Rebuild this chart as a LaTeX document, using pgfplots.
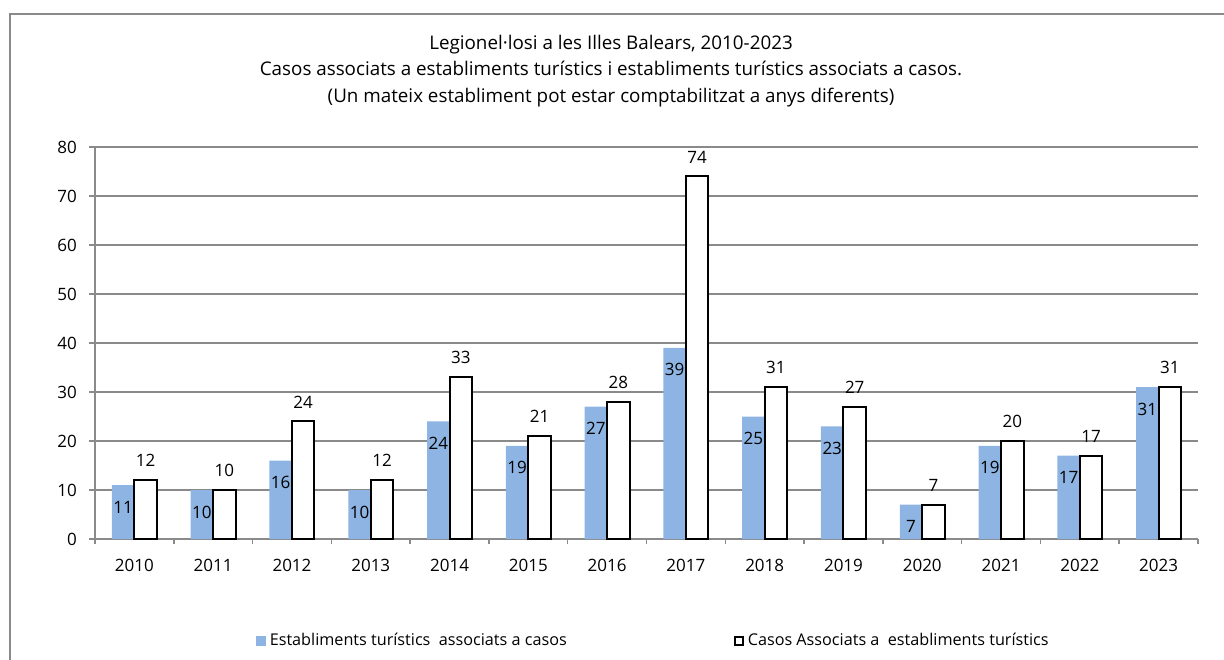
\documentclass[border=0pt]{standalone}
\usepackage{fontspec}
\setmainfont{Open Sans}
\usepackage{pgfplots}
\pgfplotsset{compat=1.18}
\definecolor{barblue}{HTML}{8DB4E2}
\definecolor{gridgray}{HTML}{8A8A8A}
\begin{document}
\fontsize{8.5pt}{10pt}\selectfont
\begin{tikzpicture}
\useasboundingbox (0,0) rectangle (612pt,329.5pt);
\draw[gridgray, line width=0.75pt] (5pt,-5pt) -- (5pt,322.5pt) -- (620pt,322.5pt);
\node[align=center, font=\fontsize{9.4pt}{13.2pt}\selectfont] at (305.5pt,294pt)
 {Legionel·losi a les Illes Balears, 2010-2023\\
  Casos associats a establiments turístics i establiments turístics associats a casos.\\
  (Un mateix establiment pot estar comptabilitzat a anys diferents)};
\begin{axis}[
  at={(47.5pt,60pt)}, anchor=south west,
  scale only axis, width=551.5pt, height=196pt,
  ybar=0pt, bar width=11.25pt,
  xmin=-0.5, xmax=13.5, ymin=0, ymax=80,
  ytick={0,10,...,80},
  xtick={0,...,13},
  xticklabels={2010,2011,2012,2013,2014,2015,2016,2017,2018,2019,2020,2021,2022,2023},
  minor xtick={-0.5,0.5,...,13.5},
  axis lines=left, axis line style={-, gridgray, line width=0.75pt},
  tick align=outside,
  major x tick style={draw=none},
  minor x tick style={gridgray, line width=0.75pt},
  minor tick length=2.5pt,
  major tick length=3pt,
  ytick style={gridgray, line width=0.75pt},
  ymajorgrids, grid style={gridgray, line width=0.6pt},
  tick label style={font=\fontsize{8.5pt}{10pt}\selectfont},
  xticklabel style={yshift=-4pt},
  yticklabel style={xshift=-3pt},
  /pgf/number format/assume math mode=true,
  nodes near coords,
  nodes near coords style={font=\fontsize{8.5pt}{10pt}\selectfont},
  legend style={at={(axis description cs:0.507,-0.26)}, anchor=center, draw=none,
    legend columns=2, /tikz/every even column/.append style={column sep=81.5pt},
    font=\fontsize{8.1pt}{10pt}\selectfont},
]
\addplot[fill=barblue, draw=none,
  every node near coord/.append style={anchor=center, yshift=-11pt},
  legend image code/.code={\fill[barblue] (0pt,-2.5pt) rectangle (5pt,2.5pt);}]
 coordinates {(0,11) (1,10) (2,16) (3,10) (4,24) (5,19) (6,27) (7,39) (8,25) (9,23) (10,7) (11,19) (12,17) (13,31)};
\addlegendentry{Establiments turístics~ associats a casos}
\addplot[fill=white, draw=black, line width=1pt,
  every node near coord/.append style={anchor=center, yshift=9.75pt},
  legend image code/.code={\draw[black, line width=0.9pt, fill=white] (0.45pt,-2.05pt) rectangle (4.55pt,2.05pt);}]
 coordinates {(0,12) (1,10) (2,24) (3,12) (4,33) (5,21) (6,28) (7,74) (8,31) (9,27) (10,7) (11,20) (12,17) (13,31)};
\addlegendentry{Casos Associats a~ establiments turístics}
\end{axis}
\end{tikzpicture}
\end{document}
